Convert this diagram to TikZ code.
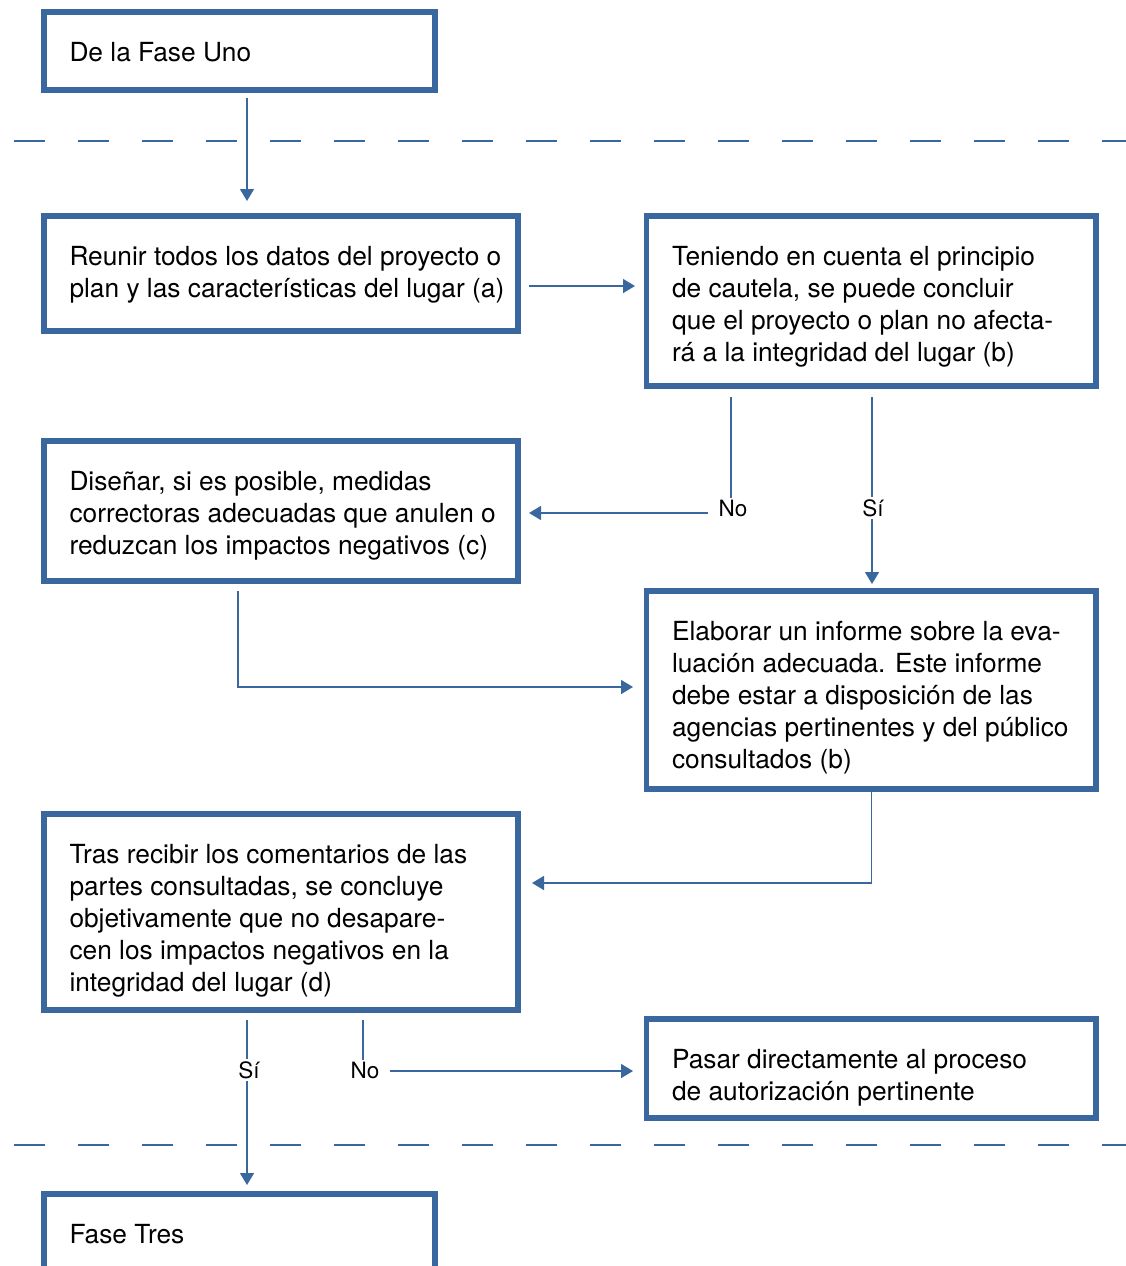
\documentclass[tikz,border=0pt]{standalone}
\usepackage{fontspec}
\setmainfont{TeX Gyre Heros}
\usetikzlibrary{calc,positioning,arrows.meta}
\definecolor{boxblue}{RGB}{58,103,158}
% text block of a box: width, height, lines
\newcommand{\boxtxt}[3]{\makebox[#1pt][l]{\parbox[t][#2pt][t]{\dimexpr#1pt+40pt\relax}{\raggedright\strut #3}}}

\begin{document}
\begin{tikzpicture}[x=1pt, y=-1pt, lbl/.style={fill=white, inner xsep=11pt, inner ysep=2pt, font=\fontsize{22.5}{27}\selectfont}, arr/.style={draw=boxblue, line width=1.5pt, -{Triangle[width=14pt,length=12pt]}}]
\tikzstyle{bx}=[draw=boxblue, line width=5.5pt, outer sep=0pt, anchor=north west, inner xsep=25.5pt, inner ysep=27.5pt, font=\fontsize{26.3}{32}\selectfont]
\useasboundingbox (0,0) rectangle (1126,1266);

% phase limits
\foreach \h in {141,1145}{\draw[boxblue, line width=1.5pt, dash pattern=on 31pt off 33pt] (14,\h) -- (1126,\h);}

\node[bx] (U) at (44,12) {\boxtxt{340}{23}{De la Fase Uno}};
\node[bx] (R) at (44,216) {\boxtxt{423}{60}{Reunir todos los datos del proyecto o\\ plan y las características del lugar (a)}};
\node[bx] (T) at (646.5,216) {\boxtxt{398.5}{115}{Teniendo en cuenta el principio\\ de cautela, se puede concluir\\ que el proyecto o plan no afecta-\\ rá a la integridad del lugar (b)}};
\node[bx] (D) at (44,441) {\boxtxt{423}{85}{Diseñar, si es posible, medidas\\ correctoras adecuadas que anulen o\\ reduzcan los impactos negativos (c)}};
\node[bx] (E) at (646.5,591) {\boxtxt{398.5}{143}{Elaborar un informe sobre la eva-\\ luación adecuada. Este informe\\ debe estar a disposición de las\\ agencias pertinentes y del público\\ consultados (b)}};
\node[bx] (C) at (44,814) {\boxtxt{423}{141}{Tras recibir los comentarios de las\\ partes consultadas, se concluye\\ objetivamente que no desapare-\\ cen los impactos negativos en la\\ integridad del lugar (d)}};
\node[bx] (P) at (646.5,1019) {\boxtxt{398.5}{44}{Pasar directamente al proceso\\ de autorización pertinente}};
\node[bx] (F) at (44,1194) {\boxtxt{340}{150}{Fase Tres}};

\draw[arr, shorten <=8pt, shorten >=15pt] ([xshift=7.5pt]U.south) -- ([xshift=7.5pt]U.south |- R.north);
\draw[arr, shorten <=11pt, shorten >=11.5pt] ([yshift=-12.5pt]R.east) -- ([yshift=-12.5pt]R.east -| T.west);
\draw[arr, shorten <=11pt, shorten >=11pt] ([xshift=-140.25pt]T.south) |- node[lbl, xshift=2pt, yshift=5pt]{No} ([yshift=-2pt]D.east);
\draw[arr, shorten <=11pt, shorten >=7pt] ([xshift=0.75pt]T.south) -- node[lbl, xshift=1pt, pos=0.595]{Sí} ([xshift=0.75pt]E.north);
\draw[arr, shorten <=10pt, shorten >=13.5pt] ([xshift=-43pt]D.south) |- ([yshift=3pt]E.west);
\draw[arr, shorten <=1pt, shorten >=14pt] (E.south) |- ([yshift=29pt]C.east);
\draw[arr, shorten <=10pt, shorten >=9pt] ([xshift=-34pt]C.south) -- node[lbl, xshift=2pt, pos=0.326]{Sí} ([xshift=-34pt]C.south |- F.north);
\draw[arr, shorten <=10pt, shorten >=13.5pt] ([xshift=82pt]C.south) |- node[lbl, xshift=2pt, yshift=1pt]{No} ([yshift=-2.5pt]P.west);
\end{tikzpicture}
\end{document}
